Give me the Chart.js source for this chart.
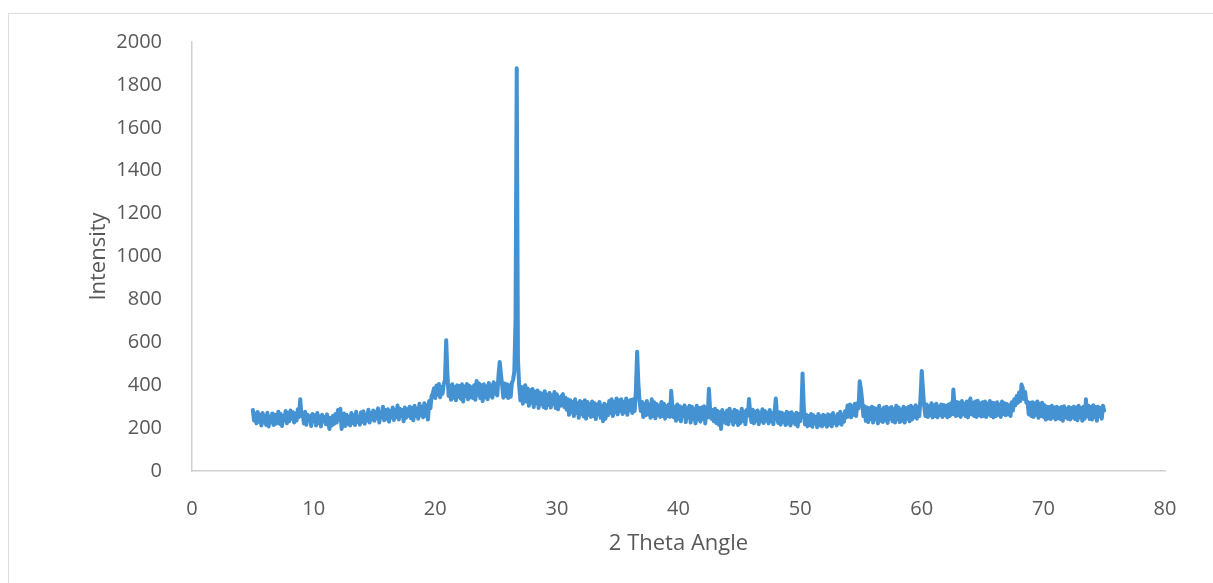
<!DOCTYPE html>
<html>
<head>
<meta charset="utf-8">
<title>XRD</title>
<script src="https://cdn.jsdelivr.net/npm/chart.js@4.4.1/dist/chart.umd.min.js"></script>
<style>
  html, body { margin: 0; padding: 0; background: #fff; overflow: hidden; }
  #frame { position: absolute; left: 8px; top: 13px; width: 1400px; height: 800px; border: 1px solid #dedede; }
  #holder { position: absolute; left: 0; top: 0; width: 1213px; height: 583px; }
</style>
</head>
<body>
<div id="frame"></div>
<div id="holder"><canvas id="myChart" width="1213" height="583"></canvas></div>
<script>
// sampling grid of the scan (degrees 2 theta)
var angleStart = 5.0;
var angleStep = 0.1;

// intensity, one row per degree (x.0 ... x.9)
var intensity = [
  285,235,268,222,275,230,262,212,270,226, // 5
  258,215,272,208,252,228,268,214,262,220, // 6
  250,276,220,266,210,258,238,280,222,270, // 7
  232,282,244,274,226,268,235,288,252,335, // 8
  258,268,222,276,215,262,238,256,210,266, // 9
  232,260,212,270,224,254,208,262,232,252, // 10
  218,264,226,196,248,212,258,220,266,226, // 11
  284,240,290,196,236,268,210,262,220,254, // 12
  212,270,224,260,214,276,228,252,216,274, // 13
  230,278,220,262,236,286,226,270,240,282, // 14
  234,276,246,292,226,272,250,300,236,284, // 15
  244,288,230,280,250,296,238,286,252,305, // 16
  240,290,256,284,232,296,248,288,258,300, // 17
  246,294,236,304,258,290,244,314,260,298, // 18
  250,316,258,306,240,326,292,350,362,386, // 19
  340,398,356,406,344,392,360,404,425,610, // 20
  452,350,398,332,404,342,392,330,400,346, // 21
  396,336,404,324,394,350,406,334,398,344, // 22
  390,340,400,332,420,356,408,340,400,326, // 23
  404,344,394,334,410,350,398,342,414,360, // 24
  404,352,445,508,452,400,342,408,350,404, // 25
  340,400,346,410,425,462,700,1878,520,398, // 26
  330,392,314,380,400,324,385,304,376,318, // 27
  382,298,370,316,375,294,366,312,360,298, // 28
  372,292,356,308,364,296,352,314,368,294, // 29
  358,288,344,304,350,358,298,342,286,334, // 30
  262,330,274,322,256,334,270,316,248,326, // 31
  266,320,254,330,244,322,262,312,252,324, // 32
  256,316,242,310,264,322,248,304,232,314, // 33
  244,306,260,326,270,334,256,322,274,338, // 34
  264,330,280,334,266,322,274,338,262,326, // 35
  284,332,270,334,280,382,556,408,326,280, // 36
  322,252,314,260,326,264,310,248,334,256, // 37
  320,246,312,262,304,252,322,256,314,244, // 38
  302,256,310,252,374,296,250,300,234,310, // 39
  244,302,232,296,256,306,228,292,250,304, // 40
  226,300,242,290,222,304,240,294,230,296, // 41
  242,302,222,292,250,383,286,244,284,232, // 42
  290,224,280,216,274,196,284,230,270,222, // 43
  282,218,290,234,274,216,286,228,280,214, // 44
  272,224,290,234,276,218,284,258,336,266, // 45
  228,286,222,276,234,282,218,272,232,288, // 46
  224,280,236,272,222,284,232,270,218,276, // 47
  338,258,224,274,216,272,228,264,214,276, // 48
  222,270,212,274,226,262,218,272,208,266, // 49
  232,274,455,298,218,262,208,256,214,266, // 50
  206,260,222,252,204,266,214,254,208,262, // 51
  218,256,206,264,216,260,208,270,224,254, // 52
  212,266,222,276,216,262,230,280,250,305, // 53
  254,310,250,302,262,314,256,316,292,418, // 54
  382,328,256,302,234,296,228,292,242,300, // 55
  226,294,240,290,222,304,234,286,228,296, // 56
  236,300,224,292,244,298,232,290,226,304, // 57
  240,296,228,286,234,300,226,292,244,298, // 58
  232,304,240,296,250,306,244,298,256,345, // 59
  466,380,302,256,310,252,302,260,316,250, // 60
  306,256,314,250,300,262,310,252,308,260, // 61
  304,250,310,256,316,264,380,304,256,322, // 62
  260,318,252,326,264,314,256,324,250,320, // 63
  338,264,318,256,324,252,328,260,316,254, // 64
  320,256,324,252,314,264,326,256,318,250, // 65
  316,256,320,262,310,252,324,266,316,260, // 66
  312,264,306,256,320,282,334,306,350,318, // 67
  366,326,403,388,336,368,318,322,264,318, // 68
  256,320,252,316,262,324,248,314,256,318, // 69
  252,306,240,300,246,298,242,304,250,296, // 70
  240,300,246,294,242,298,234,302,250,290, // 71
  244,298,240,294,250,300,242,296,236,304, // 72
  250,294,234,300,244,334,256,304,242,298, // 73
  240,306,252,298,234,300,256,294,244,304, // 74
  282                                      // 75
];

var xTicks = [0, 10, 20, 30, 40, 50, 60, 70, 80];
var yTicks = [0, 200, 400, 600, 800, 1000, 1200, 1400, 1600, 1800, 2000];

var puntos = [];
for (var i = 0; i < intensity.length; i++) {
  puntos.push({ x: Math.round((angleStart + i * angleStep) * 10) / 10, y: intensity[i] });
}

var fuente = "'Open Sans', 'Liberation Sans', sans-serif";
var gris = '#595959';

function sinComas(v) { return String(v); }

var ctx = document.getElementById('myChart').getContext('2d');
var myChart = new Chart(ctx, {
  type: 'line',
  data: {
    datasets: [{
      data: puntos,
      borderColor: '#4492d2',
      borderWidth: 4,
      pointRadius: 0,
      tension: 0,
      borderJoinStyle: 'round',
      borderCapStyle: 'round',
      fill: false
    }]
  },
  options: {
    responsive: false,
    animation: false,
    devicePixelRatio: 1,
    layout: { padding: { left: 0, top: 42, right: 48, bottom: 0 } },
    plugins: { legend: { display: false }, tooltip: { enabled: false } },
    scales: {
      x: {
        type: 'linear',
        min: xTicks[0],
        max: xTicks[xTicks.length - 1],
        afterBuildTicks: function (axis) { axis.ticks = xTicks.map(function (v) { return { value: v }; }); },
        afterFit: function (axis) { axis.height = 112; },
        grid: { display: false },
        border: { display: true, color: '#d0d0d0', width: 1.5 },
        ticks: { color: gris, font: { family: fuente, size: 20 }, padding: 18, maxRotation: 0, callback: sinComas },
        title: { display: true, text: '2 Theta Angle', color: gris, font: { family: fuente, size: 22 }, padding: { top: 0, bottom: 26 } }
      },
      y: {
        min: yTicks[0],
        max: yTicks[yTicks.length - 1],
        afterBuildTicks: function (axis) { axis.ticks = yTicks.map(function (v) { return { value: v }; }); },
        afterFit: function (axis) { axis.width = 192; },
        grid: { display: false },
        border: { display: true, color: '#d0d0d0', width: 1.5 },
        ticks: { color: gris, font: { family: fuente, size: 20 }, padding: 22, callback: sinComas },
        title: { display: true, text: 'Intensity', color: gris, font: { family: fuente, size: 22 }, padding: { top: 86, bottom: 0 } }
      }
    }
  }
});
</script>
</body>
</html>
